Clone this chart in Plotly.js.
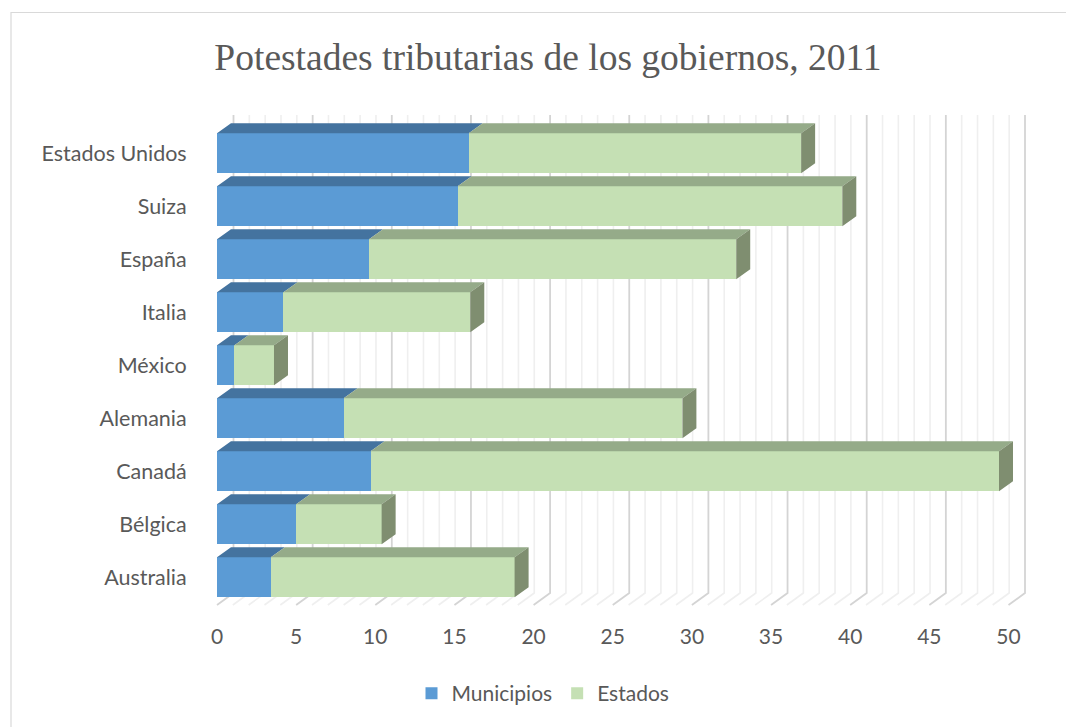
<!DOCTYPE html>
<html><head><meta charset="utf-8">
<script src="https://cdn.plot.ly/plotly-3.0.1.min.js"></script>
<style>html,body{margin:0;padding:0;background:#fff}#chart{width:1066px;height:727px}</style>
</head><body><div id="chart"></div>
<script>
// ---- data ----
const categories = ['Estados Unidos','Suiza','España','Italia','México','Alemania','Canadá','Bélgica','Australia'];
const municipios = [15.9, 15.2, 9.6, 4.2, 1.1, 8.0, 9.7, 5.0, 3.4];
const estados    = [21.0, 24.3, 23.2, 11.8, 2.5, 21.4, 39.7, 5.4, 15.4];
const xTickVals  = [0, 5, 10, 15, 20, 25, 30, 35, 40, 45, 50];
const seriesNames = ['Municipios', 'Estados'];
const chartTitle = 'Potestades tributarias de los gobiernos, 2011';

// ---- geometry / style (pixels) ----
const W = 1066, H = 727;
const px = x => x / W, py = y => 1 - y / H;
const ppu = 15.83;           // px per x unit
const front0 = 217;          // px of x=0 on front plane
const frontMax = 51;
const catTop = 153.3, catStep = 53;
const n = categories.length;
const frontTopPx = 112, frontBotPx = 610;
const yTopIdx = -(catTop - frontTopPx) / catStep;
const yBotIdx = (n - 1) + (frontBotPx - (catTop + (n - 1) * catStep)) / catStep;
const barW = 40 / catStep;
const dX = 14 / ppu, dY = 10 / catStep;   // bar depth
const backOff = 16.5;        // px offset of back wall
const wallTopPx = 115, floorBackPx = 593, floorFrontPx = 605;
const backXmin = -1.3, backXmax = 50.3;

const colors = {
  blueFront: '#5B9BD5', blueTop: '#44739F',
  greenFront: '#C5E0B4', greenTop: '#95AB89', greenSide: '#7F8E70',
  text: '#595959', gridMajor: '#D4D4D4', gridMinor: '#EFEFEF'
};
const font = 'Lato, "Open Sans", sans-serif';

// ---- back wall grid + floor lines ----
const gmax = xTickVals[xTickVals.length - 1];
const shiftUnits = backOff / ppu;
function gridLine(v, arrX, arrY) {
  arrX.push(v - shiftUnits, v, v, null);
  arrY.push(frontBotPx - floorFrontPx, frontBotPx - floorBackPx, frontBotPx - wallTopPx, null);
}
const majX = [], majY = [], minX = [], minY = [];
for (let v = 0; v <= gmax; v++) {
  if (xTickVals.includes(v)) gridLine(v, majX, majY); else gridLine(v, minX, minY);
}

const idx = categories.map((c, i) => i);
const totals = municipios.map((m, i) => m + estados[i]);

// ---- 3D faces computed from data ----
const bTopX = [], bTopY = [], gTopX = [], gTopY = [], gSideX = [], gSideY = [];
idx.forEach(i => {
  const m = municipios[i], t = totals[i];
  const yT = i - barW / 2, yB = i + barW / 2;
  bTopX.push(0, dX, m + dX, m, 0, null);
  bTopY.push(yT, yT - dY, yT - dY, yT, yT, null);
  gTopX.push(m, m + dX, t + dX, t, m, null);
  gTopY.push(yT, yT - dY, yT - dY, yT, yT, null);
  gSideX.push(t, t + dX, t + dX, t, t, null);
  gSideY.push(yT, yT - dY, yB - dY, yB, yT, null);
});

const faceTrace = (x, y, c) => ({
  type: 'scatter', mode: 'lines', x, y, fill: 'toself', fillcolor: c,
  line: {width: 0, color: c}, xaxis: 'x2', yaxis: 'y2', showlegend: false, hoverinfo: 'skip'
});

const traces = [
  {type: 'scatter', mode: 'lines', x: minX, y: minY, xaxis: 'x', yaxis: 'y',
   line: {color: colors.gridMinor, width: 1.6}, showlegend: false, hoverinfo: 'skip'},
  {type: 'scatter', mode: 'lines', x: majX, y: majY, xaxis: 'x', yaxis: 'y',
   line: {color: colors.gridMajor, width: 1.8}, showlegend: false, hoverinfo: 'skip'},
  {type: 'bar', orientation: 'h', name: seriesNames[0], x: municipios, y: idx, width: barW,
   marker: {color: colors.blueFront, line: {width: 0}}, xaxis: 'x2', yaxis: 'y2'},
  {type: 'bar', orientation: 'h', name: seriesNames[1], x: estados, y: idx, width: barW,
   marker: {color: colors.greenFront, line: {width: 0}}, xaxis: 'x2', yaxis: 'y2'},
  faceTrace(bTopX, bTopY, colors.blueTop),
  faceTrace(gTopX, gTopY, colors.greenTop),
  faceTrace(gSideX, gSideY, colors.greenSide)
];

const backLeftPx = front0 + backOff + backXmin * ppu;
const backRightPx = front0 + backOff + backXmax * ppu;

const layout = {
  width: W, height: H,
  margin: {l: 0, r: 0, t: 0, b: 0},
  paper_bgcolor: '#ffffff', plot_bgcolor: 'rgba(0,0,0,0)',
  hovermode: false,
  barmode: 'stack',
  title: {
    text: chartTitle, x: px(548), xanchor: 'center', y: py(57), yanchor: 'middle',
    font: {family: '"Liberation Serif", "Times New Roman", serif', size: 37.5, color: colors.text}
  },
  xaxis: {domain: [px(backLeftPx), px(backRightPx)], range: [backXmin, backXmax], visible: false, fixedrange: true},
  yaxis: {domain: [py(frontBotPx), py(frontTopPx)], range: [0, frontBotPx - frontTopPx], visible: false, fixedrange: true},
  xaxis2: {
    domain: [px(front0), px(front0 + frontMax * ppu)], range: [0, frontMax], anchor: 'y2',
    tickvals: xTickVals, ticktext: xTickVals.map(String),
    ticks: 'outside', ticklen: 8, tickcolor: 'rgba(0,0,0,0)',
    showgrid: false, zeroline: false, showline: false,
    tickfont: {family: font, size: 21, color: colors.text}
  },
  yaxis2: {
    domain: [py(frontBotPx), py(frontTopPx)], range: [yBotIdx, yTopIdx], anchor: 'x2',
    tickvals: idx, ticktext: categories,
    ticks: 'outside', ticklen: 25, tickcolor: 'rgba(0,0,0,0)',
    showgrid: false, zeroline: false, showline: false,
    tickfont: {family: font, size: 21.5, color: colors.text}
  },
  legend: {
    orientation: 'h', x: px(543), xanchor: 'center', y: py(693.5), yanchor: 'middle',
    font: {family: font, size: 21, color: colors.text}, bgcolor: 'rgba(0,0,0,0)', itemwidth: 30,
    traceorder: 'normal'
  },
  shapes: [{
    type: 'rect', xref: 'paper', yref: 'paper', x0: px(11), x1: 1.1, y0: -0.1, y1: py(12.5),
    line: {color: '#D9D9D9', width: 1.2}, fillcolor: 'rgba(0,0,0,0)', layer: 'below'
  }]
};

Plotly.newPlot('chart', traces, layout, {staticPlot: true, displayModeBar: false});
</script></body></html>
